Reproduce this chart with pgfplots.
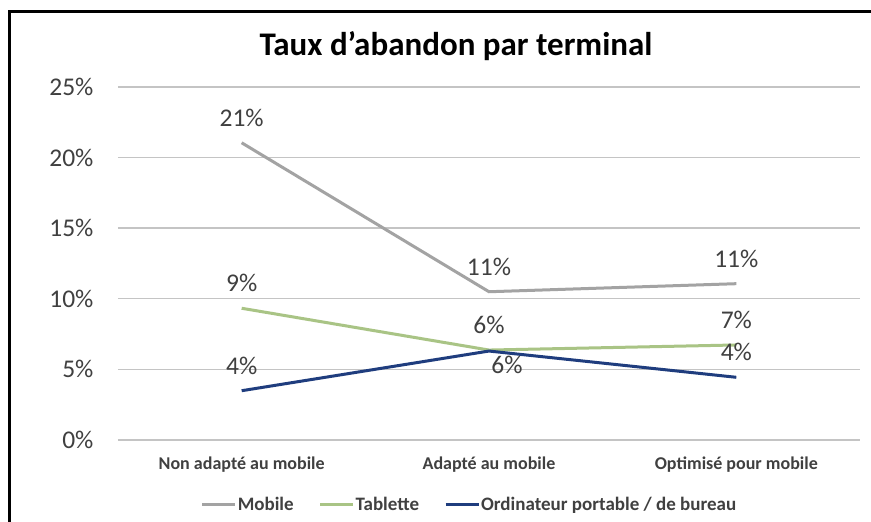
\documentclass[border=0pt]{standalone}
\usepackage{pgfplots}
\pgfplotsset{compat=1.18}
\usepackage{fontspec}
\setmainfont{Carlito}
\definecolor{cMob}{HTML}{A3A3A3}
\definecolor{cTab}{HTML}{A9C485}
\definecolor{cOrd}{HTML}{1F3D7E}
\definecolor{cGrid}{HTML}{C4C4C4}
\definecolor{cTxt}{HTML}{404040}
\begin{document}
\begin{tikzpicture}
\useasboundingbox (0pt,0pt) rectangle (871pt,522pt);
\fill[white] (0pt,0pt) rectangle (871pt,522pt);
\draw[line width=2.5pt,black] (9.3pt,0pt) -- (9.3pt,510.5pt) -- (871pt,510.5pt);
\node[font=\fontsize{33}{38}\selectfont\bfseries,anchor=center] at (456pt,476pt) {Taux d’abandon par terminal};
\begin{scope}[shift={(118pt,82pt)}]
\begin{axis}[
  at={(0pt,0pt)}, anchor=south west,
  scale only axis, width=742pt, height=353pt,
  xmin=-0.5, xmax=2.5, ymin=0, ymax=25,
  xtick={0,1,2},
  xticklabels={Non adapté au mobile, Adapté au mobile, Optimisé pour mobile},
  ytick={0,5,10,15,20,25},
  yticklabel={\pgfmathprintnumber{\tick}\%},
  /pgf/number format/assume math mode=true,
  axis line style={draw=none},
  major tick length=0pt,
  ymajorgrids, major grid style={cGrid, line width=1.4pt},
  yticklabel style={font=\fontsize{25.5}{29}\selectfont, text=cTxt, anchor=east, xshift=-21pt},
  xticklabel style={font=\fontsize{18}{21}\selectfont\bfseries, text=cTxt, anchor=base, yshift=-30pt},
  clip=false,
  legend columns=3,
  legend style={at={(0.473,-0.182)}, anchor=center, draw=none, fill=none,
    font=\fontsize{19}{22}\selectfont\bfseries, text=cTxt,
    /tikz/every even column/.append style={column sep=24pt},
    nodes={inner sep=1pt}},
  legend image code/.code={\draw[#1, line width=3pt] (0pt,0pt) -- (33pt,0pt);},
  every node near coord/.append style={font=\fontsize{25.5}{29}\selectfont, text=cTxt},
  nodes near coords align={center},
]
\addplot[cMob, line width=3pt] table {
x y
0 21.05
1 10.5
2 11.07
};
\addlegendentry{Mobile}
\addplot[cTab, line width=3pt] table {
x y
0 9.33
1 6.37
2 6.73
};
\addlegendentry{Tablette}
\addplot[cOrd, line width=3pt] table {
x y
0 3.49
1 6.3
2 4.44
};
\addlegendentry{Ordinateur portable / de bureau}
% data labels
\addplot[draw=none, forget plot, point meta=explicit symbolic,
  nodes near coords={\pgfplotspointmeta\%},
  every node near coord/.append style={yshift=25pt}]
  table[meta=lab] {
x y lab
0 21.05 21
1 10.5 11
2 11.07 11
0 9.33 9
1 6.37 6
2 6.73 7
0 3.49 4
2 4.44 4
};
\addplot[draw=none, forget plot, point meta=explicit symbolic,
  nodes near coords={\pgfplotspointmeta\%},
  every node near coord/.append style={xshift=18pt, yshift=-14pt}]
  table[meta=lab] {
x y lab
1 6.3 6
};
\end{axis}
\end{scope}
\end{tikzpicture}
\end{document}
